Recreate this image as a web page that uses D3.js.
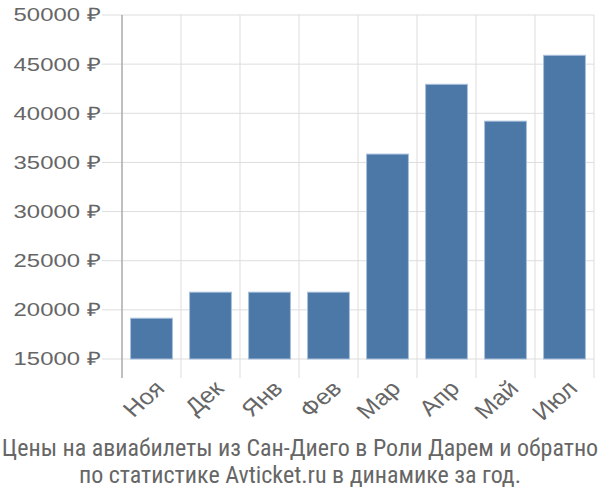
<!DOCTYPE html>
<html>
<head>
<meta charset="utf-8">
<script src="https://cdn.jsdelivr.net/npm/d3@7"></script>
<style>
  body { margin: 0; background: #fff; }
  svg { display: block; }
</style>
</head>
<body>
<div id="chart"></div>
<script>
// monthly prices
const months = ['Ноя', 'Дек', 'Янв', 'Фев', 'Мар', 'Апр', 'Май', 'Июл'];
const prices = [19150, 21800, 21800, 21800, 35850, 42950, 39200, 45900];
const yTicks = [15000, 20000, 25000, 30000, 35000, 40000, 45000, 50000];
const titleLines = [
    'Цены на авиабилеты из Сан-Диего в Роли Дарем и обратно',
    'по статистике Avticket.ru в динамике за год.'
];

const width = 600, height = 500;
const margin = { top: 15, right: 6, bottom: 141, left: 122 };
const stretch = 1.29; // y labels in the reference are drawn wider than tall

const svg = d3.select('#chart')
    .append('svg')
    .attr('width', width)
    .attr('height', height);

const x = d3.scaleBand()
    .domain(months)
    .range([margin.left, width - margin.right])
    .paddingInner(0.29)
    .paddingOuter(0.145);

const y = d3.scaleLinear()
    .domain([15000, 50000])
    .range([height - margin.bottom, margin.top]);

const plotBottom = height - margin.bottom;
const step = x.step();

// horizontal grid lines, reaching left past the axis
svg.append('g')
    .selectAll('line')
    .data(yTicks)
    .enter()
    .append('line')
    .attr('x1', margin.left - 20)
    .attr('x2', width - margin.right)
    .attr('y1', d => y(d))
    .attr('y2', d => y(d))
    .attr('stroke', '#dddddd')
    .attr('stroke-width', 1);

// vertical grid lines at band edges
const edges = months.map(m => x(m) - step * x.paddingOuter()).concat([width - margin.right]);
svg.append('g')
    .selectAll('line')
    .data(edges.slice(1))
    .enter()
    .append('line')
    .attr('x1', d => d)
    .attr('x2', d => d)
    .attr('y1', margin.top)
    .attr('y2', plotBottom + 19)
    .attr('stroke', '#dddddd')
    .attr('stroke-width', 1);

// y axis line
svg.append('line')
    .attr('x1', margin.left)
    .attr('x2', margin.left)
    .attr('y1', margin.top)
    .attr('y2', plotBottom + 19)
    .attr('stroke', '#aaaaaa')
    .attr('stroke-width', 1.5);

// bars
svg.append('g')
    .selectAll('rect')
    .data(prices)
    .enter()
    .append('rect')
    .attr('x', (d, i) => x(months[i]))
    .attr('width', x.bandwidth())
    .attr('y', d => y(d))
    .attr('height', d => plotBottom - y(d))
    .attr('fill', '#4c78a8')
    .attr('stroke', '#a9c0dc')
    .attr('stroke-width', 1);

// y tick labels
svg.append('g')
    .selectAll('text')
    .data(yTicks)
    .enter()
    .append('text')
    .attr('transform', d => `translate(${margin.left - 22},${y(d)}) scale(${stretch},1)`)
    .attr('dy', '0.35em')
    .attr('text-anchor', 'end')
    .attr('fill', '#666666')
    .style('font', '18.5px "Liberation Sans", Arial, sans-serif')
    .text(d => d + ' ₽');

// x tick labels, rotated
svg.append('g')
    .selectAll('text')
    .data(months)
    .enter()
    .append('text')
    .attr('transform', d => `translate(${x(d) + x.bandwidth() / 2 + 2},${plotBottom + 20}) scale(1.15,1) rotate(-45)`)
    .attr('text-anchor', 'end')
    .attr('dy', '0.7em')
    .attr('fill', '#666666')
    .style('font', '22px "Liberation Sans", Arial, sans-serif')
    .text(d => d);

// title
svg.append('g')
    .selectAll('text')
    .data(titleLines)
    .enter()
    .append('text')
    .attr('x', width / 2)
    .attr('y', (d, i) => 456 + i * 27)
    .attr('text-anchor', 'middle')
    .attr('fill', '#666666')
    .style('font', '24px "Liberation Sans Narrow", "Roboto Condensed", "Liberation Sans", sans-serif')
    .text(d => d);
</script>
</body>
</html>
